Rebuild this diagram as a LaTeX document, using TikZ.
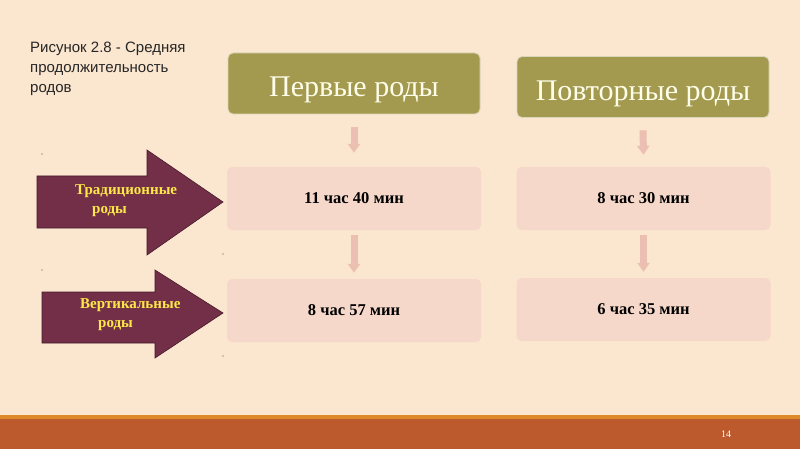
\documentclass[tikz,border=0pt]{standalone}
\usepackage{fontspec}
\setmainfont{Liberation Serif}
\newfontfamily\titlefont{Liberation Sans}
\usetikzlibrary{arrows.meta}
\definecolor{bgc}{HTML}{FBE6CF}
\definecolor{footc}{HTML}{BD5A2D}
\definecolor{footline}{HTML}{DE8A2C}
\definecolor{olive}{HTML}{A39A4F}
\definecolor{valbox}{HTML}{F6D8CA}
\definecolor{pinkarr}{HTML}{EBBFB1}
\definecolor{maroon}{HTML}{722F47}
\definecolor{yel}{HTML}{FFE94A}
\tikzset{
  headbox/.style={fill=olive, draw=olive!40!white, line width=0.8pt, rounded corners=5pt, minimum width=252pt, minimum height=61pt,
    text=white!92!yellow, font=\fontsize{30}{34}\selectfont, inner sep=0pt, text height=30pt, text depth=3pt},
  valuebox/.style={fill=valbox, rounded corners=5pt, minimum width=254pt, minimum height=63pt,
    font=\bfseries\fontsize{16.5}{18}\selectfont, inner sep=0pt},
  downarr/.style={draw=pinkarr, line width=7pt, -{Triangle[width=12pt,length=9pt]}},
  blockarr/.style={fill=maroon, draw=maroon!60!black, line width=0.6pt},
  arrtext/.style={text=yel, font=\bfseries\fontsize{15}{19}\selectfont, align=left, inner sep=0pt, anchor=base west},
  tinydot/.style={fill=black!70, circle, inner sep=0pt, minimum size=1.2pt}
}
\begin{document}
\begin{tikzpicture}[x=1pt,y=-1pt]
\useasboundingbox (0,0) rectangle (800,449);
\fill[bgc] (0,0) rectangle (800,449);
\fill[footline] (0,415) rectangle (800,419);
\fill[footc] (0,419) rectangle (800,449);
\node[text=white, font=\fontsize{10}{11}\selectfont, inner sep=0pt, anchor=base] (pnum) at (726,437) {14};

% title
\node[anchor=base west, inner sep=0pt, align=left, text=black!85, font=\titlefont\fontsize{15}{20}\selectfont] (title) at (30,93)
  {Рисунок 2.8 - Средняя\\продолжительность\\родов};

% headers
\node[headbox] (h1) at (354,83.5) {Первые роды};
\node[headbox] (h2) at (643,87) {Повторные роды};

% value boxes
\node[valuebox] (v11) at (354,198.5) {11 час 40 мин};
\node[valuebox] (v12) at (354,310.5) {8 час 57 мин};
\node[valuebox] (v21) at (643.5,198.5) {8 час 30 мин};
\node[valuebox] (v22) at (643.5,309.5) {6 час 35 мин};

% down arrows
\draw[downarr] ([yshift=-13pt]h1.south) -- ([yshift=14pt]v11.north);
\draw[downarr] ([yshift=-5pt]v11.south) -- ([yshift=6pt]v12.north);
\draw[downarr] ([yshift=-12.5pt]h2.south) -- ([yshift=12pt]v21.north);
\draw[downarr] ([yshift=-5pt]v21.south) -- ([yshift=6pt]v22.north);

% block arrows
\path[blockarr] (37,176) -- (147,176) -- (147,150) -- (223,202) -- (147,255) -- (147,228) -- (37,228) -- cycle;
\path[blockarr] (42,292) -- (155,292) -- (155,270) -- (223,313) -- (155,358) -- (155,343) -- (42,343) -- cycle;
\node[arrtext] (t1) at (75,214) {Традиционные\\\hspace*{17pt}роды};
\node[arrtext] (t2) at (80,327) {Вертикальные\\\hspace*{18pt}роды};

% tiny dots
\node[tinydot] (d1) at (42,154) {};
\node[tinydot] (d2) at (223,254) {};
\node[tinydot] (d3) at (42,270) {};
\node[tinydot] (d4) at (223,356) {};
\end{tikzpicture}
\end{document}
